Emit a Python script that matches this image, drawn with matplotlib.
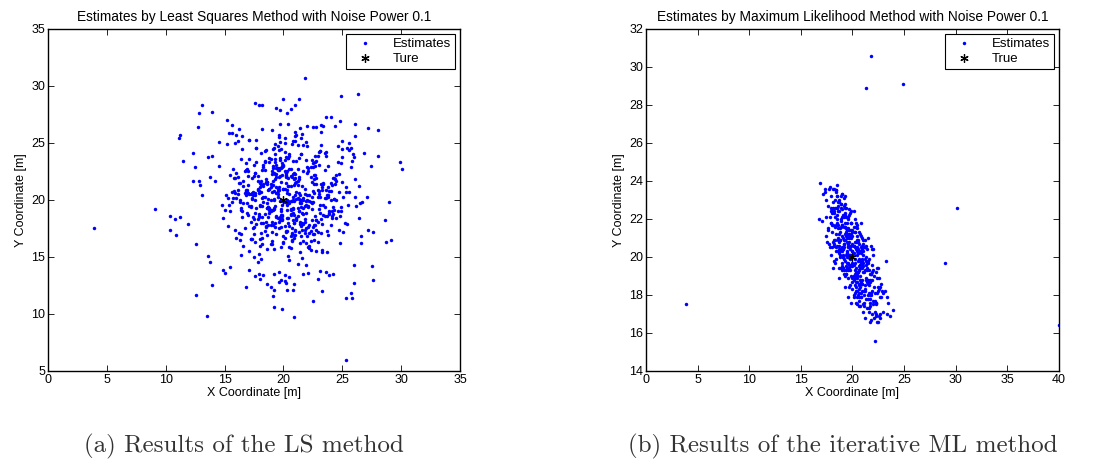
import matplotlib.pyplot as plt

# LS estimates: sparse outer points first, then the dense middle of the cloud
ls_x = [
  3.9, 9.1, 13.5, 12.6, 11.2, 11.1, 13.1, 12.8, 13.9, 12.7, 11.5, 12.3, 12.5, 10.4, 11.2, 10.8, 10.4, 10.9, 11.9, 12.6,
  13.8, 13.6, 14.9, 15.0, 15.5, 13.9, 16.8, 17.1, 17.6, 17.9, 18.0, 18.3, 18.6, 18.9, 19.2, 19.1, 19.2, 19.9, 20.9, 19.2,
  19.6, 19.6, 19.8, 20.1, 20.1, 20.2, 20.5, 20.3, 20.8, 20.9, 21.7, 22.1, 22.9, 23.1, 23.3, 22.5, 23.6, 23.9, 24.2, 25.3,
  25.7, 25.8, 25.3, 26.0, 27.5, 27.6, 26.0, 26.6, 26.6, 28.7, 29.1, 27.2, 27.6, 26.4, 28.6, 29.0, 26.5, 27.1, 26.1, 27.4,
  29.9, 30.1, 28.0, 26.8, 26.1, 26.1, 27.2, 28.0, 26.3, 24.9, 21.8, 23.6, 24.0, 24.8, 25.4, 25.0, 23.2, 21.3, 21.0, 20.0,
  19.7, 19.4, 20.6, 20.3, 17.6, 17.9, 18.2, 15.2, 15.6, 12.3, 12.8, 12.9, 13.1, 13.8, 13.9, 13.6, 14.5, 15.9, 16.1, 16.5,
  17.1, 17.7, 18.2, 19.7, 20.4, 21.0, 21.1, 22.0, 22.5, 22.8, 23.4, 25.0, 25.7, 25.6,
  18.3, 21.7, 19.9, 23.4, 16.8, 20.6, 22.1, 17.5, 19.2, 24.3, 20.9, 15.9, 21.3, 18.8, 22.8, 19.5, 17.1, 23.9, 20.2, 16.4,
  21.9, 19.0, 24.8, 18.1, 20.4, 22.5, 16.2, 19.7, 23.1, 17.8, 20.8, 25.2, 18.6, 21.5, 15.4, 20.1, 22.9, 19.3, 17.4, 24.0,
  20.5, 18.9, 22.3, 16.6, 21.1, 19.6, 23.7, 17.9, 20.3, 25.6, 18.4, 21.8, 19.1, 16.9, 22.6, 20.0, 24.5, 17.2, 21.4, 19.8,
  15.7, 22.0, 18.5, 20.7, 23.3, 17.0, 21.2, 19.4, 24.7, 16.0, 20.8, 18.2, 22.4, 19.9, 26.1, 17.6, 21.6, 20.2, 14.8, 23.0,
  19.5, 21.0, 17.3, 22.7, 18.7, 24.1, 20.6, 16.3, 21.9, 19.2, 23.5, 18.0, 20.4, 25.0, 17.7, 22.2, 19.0, 21.3, 15.2, 20.9,
  22.8, 18.6, 20.1, 16.7, 23.8, 19.7, 21.5, 17.4, 24.4, 20.3, 18.3, 22.1, 15.9, 21.7, 19.4, 23.2, 17.1, 20.7, 26.4, 18.9,
  21.0, 19.3, 24.9, 17.8, 20.0, 22.6, 16.5, 19.8, 23.6, 18.1, 21.2, 20.5, 14.5, 22.9, 18.8, 25.4, 19.6, 21.8, 17.2, 20.2,
  16.1, 23.1, 19.1, 21.4, 18.4, 24.2, 20.8, 17.5, 22.3, 19.9, 15.6, 21.1, 18.0, 23.4, 20.4, 16.8, 22.5, 19.5, 24.6, 17.9,
  20.6, 18.5, 22.0, 25.8, 19.2, 21.6, 17.0, 20.1, 23.7, 18.7, 21.9, 16.4, 19.8, 22.7, 20.3, 15.1, 24.0, 18.2, 21.3, 19.0,
  23.5, 17.6, 20.9, 19.4, 22.2, 16.9, 21.7, 18.9, 24.8, 20.0, 17.3, 22.4, 19.6, 26.7, 18.6, 21.0, 15.8, 20.7, 23.0, 19.3,
  18.1, 21.5, 20.2, 24.3, 17.7, 19.7, 22.8, 16.0, 21.2, 18.4, 23.9, 20.5, 14.2, 22.1, 19.1, 25.1, 17.4, 20.8, 21.8, 18.8,
  22.6, 19.9, 16.6, 21.4, 20.4, 23.3, 18.3, 24.5, 17.1, 20.1, 22.0, 15.5, 19.5, 21.6, 18.0, 23.8, 20.6, 16.2, 22.9, 19.2,
  20.3, 17.8, 23.6, 19.0, 21.3, 25.5, 18.5, 20.7, 16.7, 22.3, 19.4, 24.1, 17.5, 21.9, 20.0, 18.7, 15.3, 22.5, 19.8, 23.2,
  17.2, 21.1, 19.6, 22.7, 18.2, 20.9, 24.7, 16.3, 21.5, 19.3, 23.0, 18.9, 20.2, 26.0, 17.0, 22.2, 19.7, 21.0, 16.5, 24.2,
  19.1, 22.4, 20.5, 17.9, 23.4, 18.6, 21.7, 15.7, 20.3, 22.8, 19.9, 16.9, 24.4, 18.1, 21.2, 20.8, 17.6, 23.7, 19.4, 21.6,
  24.6, 18.0, 20.1, 22.1, 16.1, 19.5, 21.4, 23.1, 17.3, 20.6, 18.8, 25.3, 21.9, 19.0, 14.9, 22.6, 20.4, 17.7, 23.5, 19.7,
  21.3, 16.8, 22.9, 19.2, 20.7, 18.4, 24.0, 17.4, 21.8, 20.0, 15.4, 22.3, 19.6, 23.9, 18.3, 21.0, 20.9, 16.4, 25.7, 18.7,
  19.8, 23.3, 17.1, 21.5, 20.2, 22.0, 18.9, 16.6, 24.3, 19.1, 21.1, 17.9, 22.7, 20.5, 15.6, 23.6, 18.5, 20.8, 22.4, 19.4,
  17.5, 20.3, 22.5, 18.2, 24.9, 19.9, 21.6, 16.0, 20.6, 23.2, 18.6, 21.2, 19.3, 25.9, 17.2, 22.8, 20.0, 18.1, 21.7, 16.9,
  22.2, 19.5, 20.9, 17.8, 23.8, 21.4, 18.4, 15.0, 20.4, 22.6, 19.0, 24.5, 17.6, 21.0, 20.1, 16.3, 23.1, 18.8, 21.9, 19.6,
  19.4, 21.2, 17.6, 22.9, 20.1, 18.3, 23.8, 20.7, 16.9, 21.5, 19.0, 24.4, 18.8, 20.5, 22.2, 17.3, 19.7, 21.9, 16.2, 20.3,
  22.6, 18.1, 20.9, 19.3, 24.1, 17.8, 21.3, 20.0, 15.8, 22.4, 19.6, 18.5, 23.3, 20.6, 17.0, 21.7, 19.2, 25.0, 18.7, 20.2,
  17.9, 21.0, 23.5, 19.8, 16.6, 20.8, 22.0, 18.4, 24.7, 19.1, 21.4, 17.5, 20.4, 23.0, 18.9, 15.5, 21.8, 20.1, 22.7, 19.5,
  20.6, 16.4, 22.3, 18.6, 21.1, 24.2, 19.9, 17.2, 20.3, 23.6, 18.0, 21.6, 19.3, 16.8, 22.8, 20.9, 18.2, 25.3, 19.7, 21.4,
  18.5, 23.2, 20.0, 17.7, 21.8, 19.4, 24.9, 16.1, 20.7, 22.5, 18.8, 21.2, 19.0, 23.9, 17.4, 20.5, 22.1, 15.3, 19.6, 21.0,
  23.4, 19.2, 17.1, 21.5, 20.2, 18.6, 22.9, 16.7, 24.0, 20.8, 19.8, 21.9, 17.8, 20.4, 23.1, 18.3, 21.3, 19.5, 26.2, 17.0,
  20.0, 22.4, 18.9, 21.6, 16.3, 19.3, 23.7, 20.6, 17.6, 22.0, 19.1, 24.5, 18.1, 21.1, 20.3, 15.9, 22.6, 19.9, 18.4, 23.3,
  21.7, 17.5, 20.1, 23.0, 19.6, 18.7, 25.6, 16.5, 21.4, 20.9, 22.3, 18.2, 19.4, 24.3, 17.9, 20.7, 21.2, 16.0, 22.8, 19.0,
  18.0, 20.4, 24.6, 19.7, 21.8, 17.3, 22.5, 20.2, 16.8, 23.5, 19.3, 21.0, 18.6, 20.8, 25.1, 17.7, 22.2, 19.5, 21.5, 18.3,
  22.1, 19.8, 17.2, 20.5, 23.8, 18.9, 21.3, 16.4, 20.0, 22.7, 19.2, 24.1, 17.6, 21.7, 20.6, 18.5, 23.2, 15.6, 21.1, 19.9,
]
ls_y = [
  17.5, 19.2, 9.8, 11.7, 25.7, 25.4, 28.3, 27.6, 27.7, 26.4, 23.4, 24.1, 22.9, 18.6, 18.5, 18.3, 17.4, 16.9, 17.9, 16.1,
  14.6, 15.1, 13.9, 13.6, 14.1, 12.5, 12.4, 13.9, 13.3, 13.5, 13.1, 13.4, 12.6, 12.4, 12.1, 11.6, 10.6, 10.4, 9.7, 13.5,
  13.7, 12.8, 13.0, 13.4, 12.9, 12.7, 13.2, 12.1, 12.1, 12.6, 13.5, 13.6, 13.1, 13.8, 12.0, 11.1, 13.7, 13.4, 13.5, 11.4,
  11.8, 11.4, 6.0, 12.7, 14.2, 13.0, 14.3, 16.2, 16.8, 16.3, 16.5, 17.4, 17.2, 18.4, 18.2, 19.8, 19.7, 20.3, 20.3, 23.0,
  23.3, 22.7, 23.9, 24.1, 25.6, 26.7, 26.3, 26.1, 29.3, 29.1, 30.7, 27.3, 27.3, 26.9, 24.6, 25.2, 26.6, 28.9, 28.3, 28.9,
  27.9, 28.1, 28.0, 27.6, 28.5, 28.3, 28.3, 27.0, 25.9, 21.7, 21.7, 21.3, 20.4, 22.0, 23.9, 23.8, 25.1, 25.0, 25.2, 25.6,
  25.3, 25.3, 26.2, 26.7, 26.7, 26.0, 25.7, 26.5, 26.4, 26.4, 26.5, 24.5, 24.6, 25.0,
  21.4, 17.9, 23.2, 19.6, 20.8, 15.8, 22.5, 18.3, 24.6, 20.1, 16.7, 21.9, 19.0, 23.7, 17.4, 20.5, 25.3, 18.8, 22.0, 19.3,
  16.2, 20.7, 18.6, 24.1, 21.2, 19.8, 17.1, 22.8, 20.3, 14.6, 23.4, 18.0, 21.6, 19.4, 25.9, 17.7, 20.9, 22.3, 18.5, 20.0,
  23.9, 19.1, 16.4, 21.7, 18.2, 22.6, 20.4, 15.3, 19.7, 24.4, 17.3, 21.0, 23.0, 18.9, 20.6, 16.8, 22.2, 19.5, 26.3, 17.6,
  20.2, 22.9, 18.1, 19.9, 15.6, 21.3, 24.8, 17.0, 20.7, 22.4, 19.2, 16.1, 23.5, 18.7, 21.8, 20.0, 14.9, 22.1, 19.6, 24.2,
  18.4, 21.5, 20.1, 23.3, 17.8, 19.0, 22.7, 16.5, 25.1, 20.8, 18.6, 21.1, 15.1, 23.8, 19.3, 20.4, 17.2, 22.0, 24.9, 18.0,
  21.9, 16.9, 19.8, 22.5, 20.3, 18.2, 24.0, 17.5, 21.4, 19.1, 23.1, 15.9, 20.6, 18.8, 22.8, 26.0, 19.5, 17.1, 21.2, 20.0,
  17.4, 23.6, 19.0, 20.9, 16.3, 22.2, 18.5, 24.5, 20.2, 21.7, 14.4, 19.7, 23.0, 18.1, 21.0, 17.9, 25.5, 20.5, 16.6, 22.4,
  22.0, 18.9, 21.3, 15.4, 24.3, 19.4, 20.0, 17.6, 22.9, 18.3, 26.6, 20.7, 16.0, 21.5, 19.9, 23.2, 17.0, 20.3, 24.7, 18.6,
  19.2, 21.8, 16.8, 23.4, 20.1, 18.0, 22.1, 25.0, 17.3, 20.9, 19.6, 15.2, 21.6, 23.9, 18.4, 20.4, 17.8, 22.6, 19.0, 16.4,
  24.1, 20.6, 18.7, 21.1, 17.1, 22.7, 19.3, 23.6, 16.2, 20.0, 21.9, 18.2, 25.7, 19.8, 15.7, 22.3, 20.8, 17.5, 23.1, 19.5,
  20.7, 17.7, 22.4, 19.1, 24.6, 18.5, 21.4, 16.7, 20.2, 23.3, 18.9, 14.7, 21.7, 19.4, 22.8, 17.2, 20.5, 25.2, 18.1, 21.0,
  16.5, 22.2, 19.7, 20.4, 23.7, 17.9, 21.2, 18.4, 15.5, 24.2, 20.0, 19.0, 22.6, 17.4, 21.5, 23.0, 18.8, 26.2, 20.3, 19.3,
  22.5, 18.3, 20.9, 16.1, 21.8, 19.6, 24.4, 17.0, 20.6, 22.0, 18.6, 21.3, 15.0, 23.5, 19.9, 20.1, 17.7, 22.9, 19.2, 24.8,
  19.4, 21.6, 17.5, 23.0, 20.2, 16.9, 22.3, 19.8, 25.4, 18.0, 20.8, 21.1, 17.3, 23.8, 18.7, 15.8, 22.1, 20.4, 19.0, 21.9,
  17.8, 20.3, 24.0, 18.5, 21.4, 19.7, 16.4, 22.7, 20.0, 23.4, 18.2, 20.9, 26.5, 17.1, 21.7, 19.3, 22.4, 15.4, 20.6, 18.9,
  23.3, 19.5, 21.0, 17.6, 20.5, 22.8, 18.1, 24.3, 16.6, 21.2, 19.1, 20.7, 14.3, 22.5, 18.4, 21.8, 23.7, 17.9, 20.2, 19.9,
  20.1, 22.6, 16.3, 19.2, 24.9, 18.8, 21.5, 20.4, 17.4, 23.1, 19.6, 15.6, 22.0, 20.8, 18.0, 25.6, 21.3, 17.0, 22.9, 19.4,
  18.7, 21.1, 23.6, 20.0, 17.2, 22.4, 19.0, 16.0, 21.9, 24.5, 18.3, 20.6, 22.2, 15.9, 19.8, 23.9, 17.7, 20.3, 21.6, 18.5,
  22.1, 17.3, 20.8, 19.5, 23.2, 18.6, 25.8, 20.2, 16.8, 21.4, 19.3, 22.7, 17.6, 24.0, 20.5, 18.2, 21.0, 14.8, 22.5, 19.7,
  19.9, 24.7, 18.0, 21.7, 20.4, 16.2, 23.4, 19.1, 21.2, 17.8, 22.3, 20.0, 18.9, 25.2, 16.7, 21.5, 19.6, 23.3, 17.5, 20.9,
  22.3, 18.6, 20.4, 17.2, 23.5, 19.8, 21.1, 16.5, 20.7, 24.0, 18.1, 21.8, 19.3, 22.7, 17.8, 20.2, 25.1, 18.9, 21.5, 19.6,
  17.0, 21.3, 19.9, 23.3, 18.4, 22.1, 20.6, 16.2, 21.9, 19.2, 24.4, 17.6, 20.9, 18.7, 22.5, 20.0, 15.7, 21.6, 19.4, 23.8,
  20.8, 16.9, 22.6, 19.0, 21.2, 18.2, 24.7, 20.3, 17.4, 21.7, 19.7, 23.1, 18.0, 20.5, 16.1, 22.2, 19.5, 25.4, 18.6, 21.0,
  19.1, 23.6, 17.3, 21.4, 20.1, 18.8, 22.9, 16.6, 20.6, 24.2, 19.6, 17.9, 21.8, 20.4, 15.5, 22.4, 18.5, 21.1, 23.7, 19.8,
  21.6, 18.3, 20.0, 24.6, 17.1, 22.0, 19.4, 20.9, 16.4, 23.2, 18.9, 21.3, 26.1, 19.0, 20.7, 17.7, 22.8, 20.2, 18.1, 21.9,
  18.7, 22.4, 20.5, 16.8, 21.5, 19.3, 23.9, 17.5, 20.8, 22.3, 15.9, 19.9, 21.0, 18.4, 24.3, 20.3, 17.2, 22.7, 19.5, 20.6,
  23.0, 19.7, 17.8, 21.2, 20.0, 24.9, 18.6, 22.1, 16.3, 20.4, 19.1, 21.7, 18.0, 23.4, 20.9, 17.4, 21.4, 19.6, 22.6, 15.4,
  20.2, 17.0, 22.5, 19.2, 21.1, 18.5, 20.7, 24.5, 17.9, 21.8, 19.8, 16.7, 23.1, 20.1, 18.8, 22.0, 19.3, 25.7, 18.2, 21.3,
  16.6, 21.9, 19.0, 23.5, 18.3, 20.6, 17.6, 22.2, 20.9, 19.4, 24.0, 17.3, 21.6, 18.9, 20.3, 23.3, 16.0, 20.8, 19.7, 22.9,
  19.5, 22.8, 18.1, 20.5, 16.9, 21.4, 23.7, 19.1, 21.0, 17.8, 20.0, 18.6, 22.4, 24.8, 19.9, 21.5, 17.1, 20.7, 18.4, 23.0,
]

# ML estimates: stray points, edge of the cloud, then the dense core
ml_x = [
  3.9, 21.8, 21.3, 24.9, 30.1, 29.0, 22.2, 40.0,
  16.9, 18.5, 17.1, 17.3, 16.8, 17.0, 23.9, 23.6, 21.2, 22.3, 23.2, 22.0, 18.1, 18.7, 19.6, 20.1, 20.6, 19.7,
  20.2, 20.8, 18.4, 18.5, 18.7, 17.4, 17.9, 18.2, 19.3, 17.6, 17.4, 17.7, 17.9, 18.3, 22.4, 22.6, 22.7, 23.3,
  23.0, 23.4, 22.3, 21.7, 21.6, 20.4, 20.8,
  19.6, 20.4, 18.9, 21.2, 20.0, 19.2, 20.8, 18.4, 21.7, 19.9, 20.3, 19.4, 22.1, 18.7, 20.6, 19.8, 21.0, 17.9, 20.2, 19.1,
  21.5, 19.0, 20.7, 18.2, 19.7, 22.6, 20.1, 18.8, 21.3, 19.5, 20.5, 18.6, 19.3, 21.8, 20.9, 19.9, 17.6, 20.4, 21.1, 19.6,
  19.2, 20.0, 22.3, 18.5, 20.7, 19.4, 21.4, 18.1, 20.3, 19.8, 20.9, 19.0, 21.6, 17.4, 20.2, 19.5, 22.8, 18.9, 20.6, 19.3,
  21.1, 19.7, 18.3, 20.5, 22.0, 19.1, 20.8, 18.7, 21.9, 20.1, 19.4, 20.4, 17.8, 21.3, 19.9, 20.7, 18.5, 22.4, 19.6, 20.0,
  21.7, 18.8, 20.2, 19.3, 23.0, 20.6, 19.0, 21.2, 18.4, 20.3, 19.8, 20.9, 18.2, 21.5, 19.5, 20.1, 22.2, 17.7, 20.5, 19.2,
  20.0, 19.1, 21.0, 18.6, 20.8, 19.7, 21.8, 19.4, 20.4, 18.0, 21.4, 20.2, 19.0, 22.5, 19.6, 20.6, 18.9, 21.1, 20.0, 19.3,
  18.3, 20.7, 19.9, 21.6, 17.5, 20.3, 19.2, 22.7, 20.9, 19.7, 20.4, 18.7, 21.3, 19.5, 20.1, 23.3, 19.0, 20.8, 18.5, 21.9,
  19.6, 20.5, 18.1, 21.2, 19.8, 20.0, 22.0, 19.3, 20.7, 18.9, 21.0, 19.4, 20.3, 17.9, 21.7, 20.2, 19.1, 22.3, 20.6, 19.9,
  18.6, 20.9, 19.5, 21.5, 20.0, 18.4, 20.4, 19.7, 22.9, 19.2, 20.6, 19.0, 21.8, 18.8, 20.1, 19.6, 21.2, 17.3, 20.8, 19.9,
  20.3, 18.2, 19.8, 22.1, 19.3, 20.7, 18.9, 21.4, 20.0, 19.5, 21.6, 19.1, 20.5, 18.5, 20.9, 19.7, 22.5, 20.2, 18.0, 21.0,
  19.3, 20.6, 18.7, 21.3, 19.9, 20.1, 17.8, 21.9, 20.4, 19.0, 20.8, 19.5, 22.2, 18.4, 20.3, 19.7, 21.1, 18.9, 20.0, 23.1,
  19.2, 20.5, 21.5, 19.8, 18.6, 20.2, 21.7, 19.4, 20.9, 18.3, 20.1, 19.0, 20.7, 22.4, 19.6, 20.4, 18.8, 21.2, 19.9, 20.6,
  18.1, 21.0, 19.3, 20.3, 21.8, 19.5, 17.6, 20.8, 19.1, 22.0, 20.0, 19.7, 21.4, 18.5, 20.5, 19.2, 22.7, 20.2, 18.9, 21.3,
  19.4, 20.9, 18.2, 20.1, 21.6, 19.8, 20.6, 17.9, 21.1, 19.6, 20.3, 18.7, 22.3, 19.1, 20.8, 19.9, 21.5, 18.4, 20.4, 19.3,
  21.2, 19.5, 20.0, 18.6, 22.5, 20.7, 19.0, 21.9, 20.2, 18.8, 19.7, 20.6, 21.0, 19.2, 20.4, 18.0, 21.7, 19.8, 20.9, 19.4,
  18.2, 21.4, 19.0, 20.7, 18.6, 21.9, 19.3, 20.4, 18.0, 22.1, 19.6, 20.9, 18.4, 21.2, 19.9, 20.3, 17.8, 22.4, 19.1, 21.0,
  18.9, 21.6, 18.7, 20.5, 19.4, 22.0, 18.3, 20.8, 19.7, 21.3, 18.1, 21.8, 19.2, 20.1, 18.5, 22.6, 19.8, 20.6, 18.8, 21.5,
  19.5, 20.2, 18.6, 21.7, 19.0, 20.9, 17.9, 22.3, 19.3, 21.1, 18.4, 20.0, 19.6, 21.4, 18.9, 22.8, 19.8, 20.4, 18.2, 21.9,
  19.2, 20.6, 18.7, 21.2, 19.5, 20.3, 18.0, 22.2, 19.1, 21.0, 18.6, 21.5, 19.4, 20.7, 18.3, 22.5, 19.9, 20.5, 18.8, 21.3,
  19.7, 20.1, 19.3, 20.6, 19.0, 20.4, 19.5, 20.8, 19.8, 20.2, 18.5, 21.7, 19.2, 21.0, 18.1, 22.7, 19.6, 20.3, 18.7, 21.8,
]
ml_y = [
  17.5, 30.6, 28.9, 29.1, 22.6, 19.7, 15.6, 16.4,
  23.9, 23.8, 23.3, 23.4, 22.0, 21.9, 17.2, 16.9, 16.8, 16.9, 19.8, 20.4, 19.4, 18.9, 17.9, 17.9, 17.4, 22.5,
  22.0, 21.8, 23.4, 23.2, 22.9, 23.0, 22.6, 22.4, 22.8, 21.4, 21.1, 20.7, 20.1, 19.7, 19.4, 18.9, 18.4, 17.9,
  18.1, 17.6, 17.5, 17.4, 17.1, 17.9, 18.6,
  21.1, 18.7, 22.8, 18.5, 20.3, 19.1, 20.5, 21.7, 17.6, 22.4, 18.4, 21.5, 18.4, 20.2, 21.3, 20.1, 17.1, 23.2, 20.5, 20.4,
  19.8, 19.5, 19.4, 23.6, 21.4, 16.9, 18.8, 20.9, 20.6, 21.0, 19.2, 22.9, 18.4, 19.1, 18.2, 21.4, 22.7, 21.7, 17.4, 19.7,
  22.7, 19.5, 19.2, 20.6, 19.8, 19.3, 18.7, 23.6, 17.6, 21.1, 19.4, 22.1, 17.3, 22.1, 21.3, 20.2, 17.9, 19.4, 19.3, 23.2,
  18.2, 20.8, 23.0, 18.0, 17.7, 21.0, 20.3, 20.6, 18.8, 19.0, 19.5, 21.5, 22.1, 19.6, 17.6, 19.6, 22.2, 16.6, 22.1, 21.3,
  18.8, 20.9, 19.1, 22.2, 17.1, 17.7, 21.7, 19.9, 20.5, 21.8, 18.5, 19.8, 20.9, 18.0, 21.4, 21.6, 17.7, 23.6, 19.2, 19.9,
  21.1, 20.4, 20.9, 21.7, 18.1, 18.4, 19.1, 21.1, 18.9, 20.5, 17.3, 19.9, 23.3, 18.2, 20.1, 20.7, 20.4, 19.2, 18.9, 21.8,
  22.6, 18.8, 20.6, 19.9, 20.8, 18.2, 20.9, 17.0, 21.0, 19.4, 21.1, 21.2, 17.8, 21.2, 22.4, 17.0, 19.7, 18.7, 22.6, 17.0,
  20.5, 20.4, 20.8, 20.5, 19.5, 19.7, 19.3, 22.6, 17.4, 21.6, 19.7, 19.1, 20.8, 22.4, 17.8, 18.9, 22.2, 17.0, 19.9, 21.8,
  20.9, 20.4, 19.4, 18.6, 20.7, 23.5, 17.5, 21.2, 18.2, 20.5, 19.3, 22.5, 16.7, 20.3, 20.2, 21.5, 19.3, 23.6, 17.9, 19.6,
  21.6, 22.3, 19.9, 16.8, 21.6, 18.6, 23.2, 19.3, 18.3, 21.8, 18.1, 20.0, 20.2, 23.2, 18.6, 20.6, 18.4, 18.5, 21.7, 20.1,
  21.2, 18.3, 20.8, 20.0, 21.2, 18.0, 23.7, 18.2, 20.3, 20.3, 20.3, 20.8, 17.1, 20.3, 19.4, 22.2, 18.0, 22.0, 20.1, 18.2,
  19.3, 20.2, 18.8, 20.1, 22.7, 21.3, 16.6, 20.1, 19.6, 21.6, 19.0, 23.3, 19.0, 18.1, 19.3, 20.5, 21.3, 18.3, 21.8, 18.1,
  22.6, 20.3, 21.6, 19.0, 18.1, 20.2, 21.5, 21.1, 19.4, 17.5, 20.3, 19.6, 19.7, 22.0, 20.8, 20.7, 16.8, 18.1, 22.6, 18.8,
  22.1, 18.8, 20.7, 20.6, 19.3, 22.3, 18.5, 21.8, 17.6, 20.7, 19.2, 22.4, 17.6, 20.0, 19.7, 21.0, 17.8, 23.5, 20.9, 19.0,
  20.5, 20.0, 18.7, 21.5, 16.6, 19.6, 21.7, 19.2, 19.7, 20.1, 21.2, 17.9, 19.5, 22.1, 19.1, 22.3, 18.0, 19.3, 20.6, 21.3,
  20.6, 20.4, 19.3, 21.2, 21.0, 19.6, 22.3, 18.2, 21.3, 19.0, 22.0, 18.6, 19.9, 20.9, 21.8, 18.7, 20.5, 18.9, 20.1, 19.2,
  21.9, 18.5, 20.4, 20.9, 19.1, 20.1, 22.1, 17.9, 21.0, 19.8, 21.7, 18.0, 20.7, 19.6, 22.6, 18.3, 19.5, 20.3, 20.0, 21.0,
  21.4, 20.8, 22.4, 18.7, 21.1, 19.9, 21.8, 17.6, 19.8, 20.5, 21.2, 21.4, 18.9, 19.4, 22.8, 18.6, 20.4, 19.0, 19.8, 20.4,
  21.6, 18.6, 23.0, 18.2, 20.3, 21.6, 22.5, 18.1, 19.4, 20.7, 20.3, 19.7, 22.6, 18.4, 20.9, 19.4, 19.0, 19.8, 21.5, 18.9,
  20.0, 20.6, 20.9, 19.5, 20.5, 20.1, 19.7, 20.2, 21.1, 19.3, 21.8, 19.1, 23.1, 17.5, 22.9, 17.9, 20.6, 20.4, 19.4, 20.6,
]

true_x = 20
true_y = 20

titles = ['Estimates by Least Squares Method with Noise Power 0.1',
          'Estimates by Maximum Likelihood Method with Noise Power 0.1']
captions = ['(a) Results of the LS method', '(b) Results of the iterative ML method']
true_labels = ['Ture', 'True']
xlims = [(0, 35), (0, 40)]
ylims = [(5, 35), (14, 32)]
xticks = [list(range(0, 36, 5)), list(range(0, 41, 5))]
yticks = [list(range(5, 36, 5)), list(range(14, 33, 2))]

plt.rcParams['font.family'] = 'Liberation Sans'
plt.rcParams['font.size'] = 9

fig = plt.figure(figsize=(10.99, 4.65), dpi=100)
boxes = [[0.0437, 0.2022, 0.3749, 0.7355], [0.5878, 0.2022, 0.3758, 0.7355]]
data = [(ls_x, ls_y), (ml_x, ml_y)]
cap_x = [0.222, 0.767]

for i in range(2):
  ax = fig.add_axes(boxes[i])
  ex, ey = data[i]
  ax.plot(ex, ey, 'o', color='blue', markersize=2.5, markeredgewidth=0, label='Estimates')
  ax.plot([true_x], [true_y], marker=(6, 2, 0), linestyle='none', color='black',
          markersize=6, markeredgewidth=0.9, label=true_labels[i])
  ax.set_xlim(*xlims[i])
  ax.set_ylim(*ylims[i])
  ax.set_xticks(xticks[i])
  ax.set_yticks(yticks[i])
  ax.tick_params(direction='in', top=True, right=True, length=4, width=0.6, pad=2)
  for s in ax.spines.values():
    s.set_linewidth(1.0)
  ax.set_title(titles[i], fontsize=9.9, pad=6)
  ax.set_xlabel('X Coordinate [m]', labelpad=1)
  ax.set_ylabel('Y Coordinate [m]', labelpad=3)
  leg = ax.legend(loc='upper right', fancybox=False, edgecolor='black', framealpha=1,
                  borderaxespad=0.4, handlelength=2.2, handletextpad=1.0,
                  borderpad=0.3, labelspacing=0.2, fontsize=9.5)
  leg.get_frame().set_linewidth(0.8)
  fig.text(cap_x[i], 0.04, captions[i], ha='center', va='center',
           family='cmr10', fontsize=18, color='#333333')

fig.savefig('out.png', dpi=100)
